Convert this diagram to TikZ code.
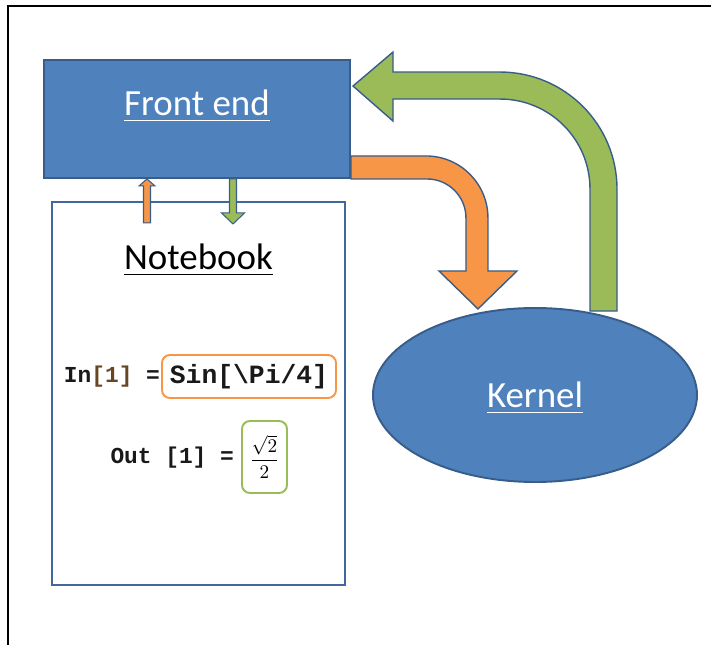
\documentclass[tikz,border=0pt]{standalone}
\usepackage{amsmath}
\usepackage{fontspec}
\setmainfont{Carlito}
\setmonofont{Liberation Mono}
\usetikzlibrary{shapes.geometric,calc}
\definecolor{boxblue}{HTML}{4F81BD}
\definecolor{lineblue}{HTML}{385D8A}
\definecolor{nbblue}{HTML}{41689E}
\definecolor{arrorange}{HTML}{F79646}
\definecolor{arrgreen}{HTML}{9BBB59}

\begin{document}
\begin{tikzpicture}[
    bluebox/.style={draw=lineblue, fill=boxblue, line width=1.1pt, inner sep=0pt},
    fatarrow/.style={draw=lineblue, line width=0.8pt, line join=miter},
    title/.style={font=\fontsize{21}{25}\selectfont},
    code/.style={font=\ttfamily\bfseries\fontsize{13}{15}\selectfont, text=black!90, inner sep=1pt},
    bigcode/.style={font=\ttfamily\bfseries\fontsize{15}{18}\selectfont, text=black!90},
  ]
    \useasboundingbox (0,0) rectangle (14.22,-12.9);

    % 外框
    \draw[line width=1.1pt] (0.16,-12.9) -- (0.16,-0.12) -- (14.22,-0.12);

    % Front end / Notebook / Kernel
    \node[bluebox, minimum width=6.12cm, minimum height=2.36cm] (fe) at (3.94,-2.38) {};
    \node[title, text=white] (fetext) at ($(fe.center)+(0,0.26)$) {\underline{Front end}};
    \node[draw=nbblue, line width=1.6pt, minimum width=5.86cm, minimum height=7.66cm] (nb) at (3.97,-7.87) {};
    \node[title] (nbtext) at (3.97,-5.2) {\underline{Notebook}};
    \node[bluebox, ellipse, minimum width=6.48cm, minimum height=3.48cm] (kn) at (10.7,-7.9) {};
    \node[title, text=white] (kntext) at ($(kn.center)+(0,-0.06)$) {\underline{Kernel}};

    % In / Out
    \node[code, anchor=east] (inlbl) at (3.24,-7.53) {In{\color{brown!55!black}[1]} =};
    \node[draw=arrorange, line width=1.1pt, rounded corners=0.16cm, minimum width=3.48cm, minimum height=0.86cm, bigcode] (inbox) at (4.98,-7.53) {Sin[\textbackslash Pi/4]};
    \node[code, anchor=east] (outlbl) at (4.72,-9.16) {Out [1] =};
    \node[draw=arrgreen, line width=1.1pt, rounded corners=0.16cm, minimum width=0.9cm, minimum height=1.44cm, inner sep=0pt, font=\fontsize{11}{13}\selectfont] (outbox) at (5.29,-9.14) {$\dfrac{\sqrt{2}}{2}$};

    % 绿色大箭头 Kernel -> Front end
    \draw[fatarrow, fill=arrgreen] ($(kn.north)+(1.1,-0.08)$) -- ++(0.54,0) -- ++(0,2.44)
        arc[start angle=0, end angle=90, radius=2.34] -- ++(-2.14,0) -- ++(0,0.4)
        -- ++(-0.8,-0.68) -- ++(0.8,-0.7) -- ++(0,0.44) -- ++(2.14,0)
        arc[start angle=90, end angle=0, radius=1.8] -- cycle;

    % 橙色大箭头 Front end -> Kernel
    \draw[fatarrow, fill=arrorange] ($(fe.south east)+(0,0.46)$) -- ++(1.5,0)
        arc[start angle=90, end angle=0, radius=1.24] -- ++(0,-1.06) -- ++(0.58,0)
        -- ++(-0.78,-0.76) -- ++(-0.78,0.76) -- ++(0.54,0) -- ++(0,1.06)
        arc[start angle=0, end angle=90, radius=0.78] -- (fe.south east) -- cycle;

    % 小箭头 Notebook <-> Front end
    \draw[fatarrow, line width=0.6pt, fill=arrorange] ($(fe.south)+(-1,0)$) -- ++(0.16,-0.14) -- ++(-0.09,0)
        -- ++(0,-0.74) -- ++(-0.14,0) -- ++(0,0.74) -- ++(-0.09,0) -- cycle;
    \draw[fatarrow, line width=0.6pt, fill=arrgreen] ($(fe.south)+(0.65,0)$) -- ++(0.14,0) -- ++(0,-0.68)
        -- ++(0.16,0) -- ++(-0.23,-0.22) -- ++(-0.23,0.22) -- ++(0.16,0) -- cycle;
\end{tikzpicture}
\end{document}
